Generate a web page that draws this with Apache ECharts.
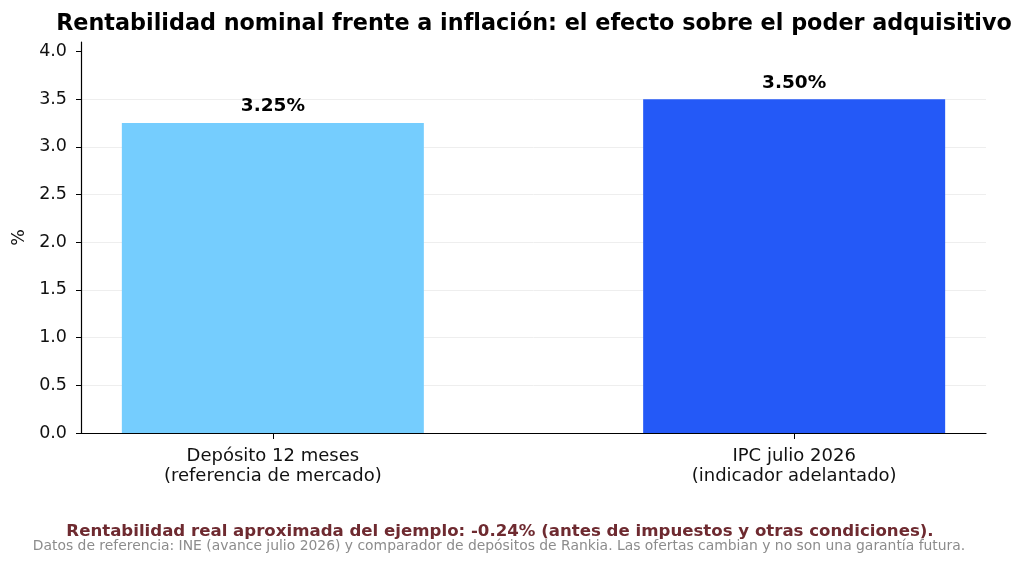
<!DOCTYPE html>
<html lang="es">
<head>
	<meta charset="utf-8">
	<title>Rentabilidad nominal frente a inflación</title>
	<style>
		html, body { margin: 0; padding: 0; background: #fff; }
		#container { width: 1024px; height: 566px; }
	</style>
</head>
<body>
	<div id="container"></div>
	<script src="https://cdn.jsdelivr.net/npm/echarts@6.0.0/dist/echarts.min.js"></script>
	<script>
		// datos
		const categorias = ['Depósito 12 meses\n(referencia de mercado)', 'IPC julio 2026\n(indicador adelantado)'];
		const posiciones = [0, 1];
		const valores = [3.25, 3.50];
		const colores = ['#75CDFE', '#2459F7'];
		const yTicks = [0, 0.5, 1.0, 1.5, 2.0, 2.5, 3.0, 3.5, 4.0];

		const fuente = 'DejaVu Sans';
		let dom = document.getElementById('container');
		let myChart = echarts.init(dom, null, { renderer: 'canvas' });

		let option = {
			backgroundColor: '#ffffff',
			animation: false,
			title: [{
				text: 'Rentabilidad nominal frente a inflación: el efecto sobre el poder adquisitivo',
				left: 529,
				top: 8,
				textAlign: 'center',
				textStyle: { fontFamily: fuente, fontSize: 22.3, fontWeight: 'bold', color: '#000' }
			}, {
				text: 'Rentabilidad real aproximada del ejemplo: -0.24% (antes de impuestos y otras condiciones).',
				left: 495,
				top: 518,
				textAlign: 'center',
				textStyle: { fontFamily: fuente, fontSize: 16.6, fontWeight: 'bold', color: '#6E2A30' }
			}, {
				text: 'Datos de referencia: INE (avance julio 2026) y comparador de depósitos de Rankia. Las ofertas cambian y no son una garantía futura.',
				left: 494,
				top: 534,
				textAlign: 'center',
				textStyle: { fontFamily: fuente, fontSize: 13.9, fontWeight: 'normal', color: '#8C8C8C' }
			}],
			grid: { left: 81, right: 38, top: 42, bottom: 133, outerBoundsMode: 'none', containLabel: false },
			xAxis: {
				type: 'value',
				min: -0.368,
				max: 1.368,
				splitLine: { show: false },
				axisLine: { show: true, lineStyle: { color: '#000', width: 1.2 } },
				axisTick: { show: true, customValues: posiciones, length: 6, lineStyle: { color: '#000' } },
				axisLabel: {
					customValues: posiciones,
					formatter: function (v) { return categorias[Math.round(v)]; },
					fontFamily: fuente, fontSize: 18, color: '#111', lineHeight: 20.5, margin: 13
				}
			},
			yAxis: {
				type: 'value',
				min: 0,
				max: 4.1,
				interval: 0.5,
				name: '%',
				nameLocation: 'middle',
				nameGap: 51,
				nameRotate: 90,
				nameTextStyle: { fontFamily: fuente, fontSize: 17.5, color: '#111' },
				axisLine: { show: true, onZero: false, lineStyle: { color: '#000', width: 1.2 } },
				axisTick: { show: true, customValues: yTicks, length: 5, lineStyle: { color: '#000' } },
				axisLabel: {
					customValues: yTicks,
					formatter: function (v) { return v.toFixed(1); },
					fontFamily: fuente, fontSize: 17.5, color: '#111', margin: 14
				},
				splitLine: { show: true, showMaxLine: false, showMinLine: false, lineStyle: { color: '#EEEEEE', width: 1 } }
			},
			series: [{
				type: 'bar',
				barWidth: 302,
				data: valores.map(function (v, i) {
					return { value: [posiciones[i], v], itemStyle: { color: colores[i] } };
				}),
				label: {
					show: true,
					position: 'top',
					distance: 7,
					formatter: function (p) { return p.value[1].toFixed(2) + '%'; },
					fontFamily: fuente, fontSize: 18.5, fontWeight: 'bold', color: '#000'
				}
			}]
		};

		myChart.setOption(option);
	</script>
</body>
</html>
